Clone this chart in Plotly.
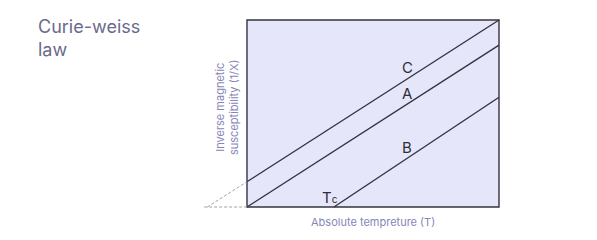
import plotly.graph_objects as go

# data (arbitrary units: T on x 0..10, 1/X on y 0..10)
line_c_x = [0, 10]
line_c_y = [1.35, 10]
line_a_x = [0, 10]
line_a_y = [0, 8.66]
line_b_x = [3.45, 10]
line_b_y = [0, 5.87]
ext_c_x = [-1.58, 0]
ext_c_y = [0, 1.35]
ext_h_x = [-1.7, 0]
ext_h_y = [0, 0]
labels = ["C", "A", "B"]
label_x = [6.35, 6.35, 6.35]
label_y = [7.45, 6.05, 3.2]

W, H = 597, 240
# pixel mapping
x0px, x1px = 247, 499
y0px, y1px = 207, 20
ux = 10 / (x1px - x0px)
uy = 10 / (y0px - y1px)
xr = [-x0px * ux, 10 + (W - x1px) * ux]
yr = [-(H - y0px) * uy, 10 + y1px * uy]

dark = "#34343f"
fig = go.Figure()
fig.add_shape(type="rect", x0=0, x1=10, y0=0, y1=10, xref="x", yref="y",
              fillcolor="#e6e6fb", line=dict(color=dark, width=1.4), layer="below")
for xs, ys in [(line_c_x, line_c_y), (line_a_x, line_a_y), (line_b_x, line_b_y)]:
    fig.add_trace(go.Scatter(x=xs, y=ys, mode="lines", line=dict(color=dark, width=1.4),
                             hoverinfo="skip", showlegend=False))
for xs, ys in [(ext_c_x, ext_c_y), (ext_h_x, ext_h_y)]:
    fig.add_trace(go.Scatter(x=xs, y=ys, mode="lines", line=dict(color="#a0a0aa", width=1, dash="3px,2px"),
                             hoverinfo="skip", showlegend=False))

for t, lx, ly in zip(labels, label_x, label_y):
    fig.add_annotation(x=lx, y=ly, text=t, showarrow=False, xref="x", yref="y",
                       font=dict(family="Inter, Noto Sans, sans-serif", size=15, color="#2e2e38"))
fig.add_annotation(x=3.68, y=-0.1, text="T<span style='font-size:10px'>c</span>", showarrow=False,
                   xref="x", yref="y", xanchor="right", yanchor="bottom",
                   font=dict(family="Inter, Noto Sans, sans-serif", size=15, color="#2e2e38"))

fig.add_annotation(x=36 / W, y=1 - 14 / H, xref="paper", yref="paper", xanchor="left", yanchor="top",
                   text="Curie-weiss<br>law", showarrow=False, align="left",
                   font=dict(family="Inter, Noto Sans, sans-serif", size=18, color="#6a6a8c"))
fig.add_annotation(x=373 / W, y=1 - 213 / H, xref="paper", yref="paper", yanchor="top",
                   text="Absolute tempreture (T)", showarrow=False,
                   font=dict(family="Inter, Noto Sans, sans-serif", size=11, color="#8686b8"))
fig.add_annotation(x=227 / W, y=1 - 107 / H, xref="paper", yref="paper", textangle=-90,
                   text="Inverse magnetic<br>susceptibility (1/X)", showarrow=False,
                   font=dict(family="Inter, Noto Sans, sans-serif", size=11, color="#8686b8"))

fig.update_layout(width=W, height=H, margin=dict(l=0, r=0, t=0, b=0),
                  paper_bgcolor="white", plot_bgcolor="white",
                  xaxis=dict(range=xr, visible=False, fixedrange=True),
                  yaxis=dict(range=yr, visible=False, fixedrange=True))
fig.write_html("out.html")
